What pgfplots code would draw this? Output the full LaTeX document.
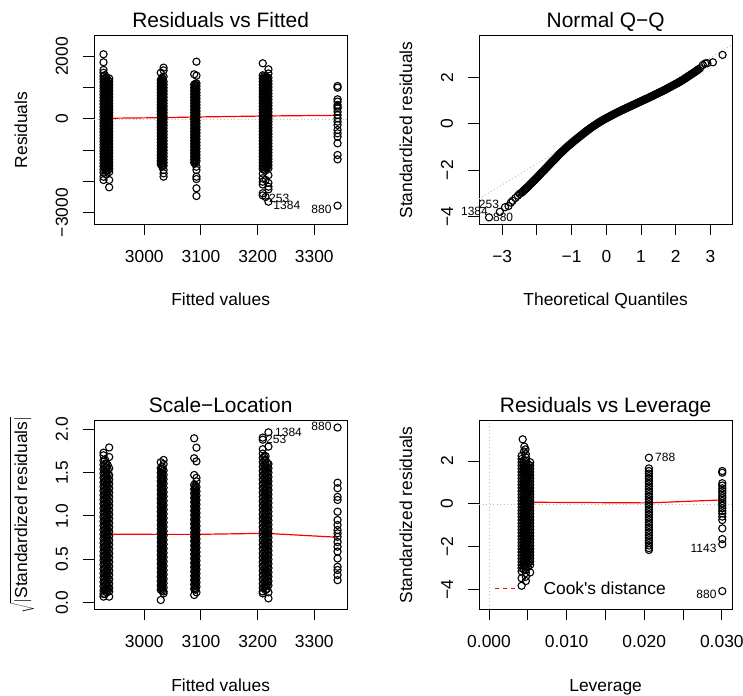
\documentclass[border=0pt]{standalone}
\usepackage{pgfplots}
\pgfplotsset{compat=1.18}
\usepackage{fontspec}
\setmainfont{Liberation Sans}
\newfontfamily\plainsans{Liberation Sans}
\definecolor{rgray}{RGB}{190,190,190}
\pgfplotsset{
  rplot/.style={
    scale only axis, width=253.3pt, height=188.6pt, anchor=south west,
    clip=false, scaled ticks=false,
    axis line style={line width=1pt},
    every tick/.style={black, line width=1pt},
    tick align=outside, major tick length=10.7pt,
    xtick pos=left, ytick pos=left, minor tick num=0,
    title style={at={(0.5,1)}, anchor=base, yshift=2.5pt, inner sep=0pt,
      font=\fontsize{20.9}{24}\selectfont},
    xlabel style={at={(axis description cs:0.5,0)}, anchor=base, yshift=-81.7pt, inner sep=0pt},
    ylabel style={at={(axis description cs:-0.2645,0.5)}, anchor=base, inner sep=0pt},
    xticklabel style={anchor=north, inner sep=0pt},
    yticklabel style={rotate=90, anchor=south, inner sep=0pt},
    xticklabel shift=15.3pt, yticklabel shift=15pt,
  },
  pts/.style={only marks, mark=o, black, mark size=3.6pt, mark options={line width=1.1pt}},
  rdot/.style={rgray, line width=0.9pt, dash pattern=on 1pt off 2.5pt, no marks},
  rsmooth/.style={red, line width=1.2pt, no marks},
}
\tikzset{lab/.style={inner sep=0pt, font=\fontsize{12}{14}\selectfont}}
\begin{document}
\begin{tikzpicture}[font=\fontsize{17.4}{20}\selectfont]
\useasboundingbox (0,0) rectangle (743pt,695pt);

% Residuals vs Fitted
\begin{axis}[rplot, at={(94pt,470.7pt)},
  xmin=2911.2, xmax=3358.2, ymin=-3375, ymax=2670,
  xtick={3000,3100,3200,3300}, xticklabels={3000,3100,3200,3300},
  ytick={-3000,-2000,-1000,0,1000,2000}, yticklabels={−3000,,,0,,2000},
  title={Residuals vs Fitted}, xlabel={Fitted values}, ylabel={Residuals}]
\addplot[pts] coordinates {(2928,2075) (2928,1817) (2928,1571) (2928,1480) (2928,1380) (2928,1280) (2928,1180) (2928,1080) (2928,980) (2928,880) (2928,780) (2928,680) (2928,580) (2928,480) (2928,380) (2928,280) (2928,180) (2928,80) (2928,-20) (2928,-120) (2928,-220) (2928,-320) (2928,-420) (2928,-520) (2928,-620) (2928,-720) (2928,-820) (2928,-920) (2928,-1020) (2928,-1120) (2928,-1220) (2928,-1320) (2928,-1420) (2928,-1520) (2928,-1620) (2928,-1720) (2928,-1850) (2928,-1955)};
\addplot[pts] coordinates {(2933,1330) (2933,1230) (2933,1130) (2933,1030) (2933,930) (2933,830) (2933,730) (2933,630) (2933,530) (2933,430) (2933,330) (2933,230) (2933,130) (2933,30) (2933,-70) (2933,-170) (2933,-270) (2933,-370) (2933,-470) (2933,-570) (2933,-670) (2933,-770) (2933,-870) (2933,-970) (2933,-1070) (2933,-1170) (2933,-1270) (2933,-1370) (2933,-1470) (2933,-1570) (2933,-1670) (2933,-1780)};
\addplot[pts] coordinates {(2938,1300) (2938,1200) (2938,1100) (2938,1000) (2938,900) (2938,800) (2938,700) (2938,600) (2938,500) (2938,400) (2938,300) (2938,200) (2938,100) (2938,0) (2938,-100) (2938,-200) (2938,-300) (2938,-400) (2938,-500) (2938,-600) (2938,-700) (2938,-800) (2938,-900) (2938,-1000) (2938,-1100) (2938,-1200) (2938,-1300) (2938,-1400) (2938,-1500) (2938,-1600) (2938,-1700) (2938,-1955) (2938,-2189)};
\addplot[pts] coordinates {(2935.5,1255) (2935.5,1155) (2935.5,1055) (2935.5,955) (2935.5,855) (2935.5,755) (2935.5,655) (2935.5,555) (2935.5,455) (2935.5,355) (2935.5,255) (2935.5,155) (2935.5,55) (2935.5,-45) (2935.5,-145) (2935.5,-245) (2935.5,-345) (2935.5,-445) (2935.5,-545) (2935.5,-645) (2935.5,-745) (2935.5,-845) (2935.5,-945) (2935.5,-1045) (2935.5,-1145) (2935.5,-1245) (2935.5,-1345) (2935.5,-1445) (2935.5,-1545) (2935.5,-1645)};
\addplot[pts] coordinates {(2930.5,1405) (2930.5,1305) (2930.5,1205) (2930.5,1105) (2930.5,1005) (2930.5,905) (2930.5,805) (2930.5,705) (2930.5,605) (2930.5,505) (2930.5,405) (2930.5,305) (2930.5,205) (2930.5,105) (2930.5,5) (2930.5,-95) (2930.5,-195) (2930.5,-295) (2930.5,-395) (2930.5,-495) (2930.5,-595) (2930.5,-695) (2930.5,-795) (2930.5,-895) (2930.5,-995) (2930.5,-1095) (2930.5,-1195) (2930.5,-1295) (2930.5,-1395) (2930.5,-1495) (2930.5,-1595)};
\addplot[pts] coordinates {(3029,1484) (3029,1250) (3029,1150) (3029,1050) (3029,950) (3029,850) (3029,750) (3029,650) (3029,550) (3029,450) (3029,350) (3029,250) (3029,150) (3029,50) (3029,-50) (3029,-150) (3029,-250) (3029,-350) (3029,-450) (3029,-550) (3029,-650) (3029,-750) (3029,-850) (3029,-950) (3029,-1050) (3029,-1150) (3029,-1250) (3029,-1350) (3029,-1450)};
\addplot[pts] coordinates {(3034,1645) (3034,1560) (3034,1356) (3034,1200) (3034,1100) (3034,1000) (3034,900) (3034,800) (3034,700) (3034,600) (3034,500) (3034,400) (3034,300) (3034,200) (3034,100) (3034,0) (3034,-100) (3034,-200) (3034,-300) (3034,-400) (3034,-500) (3034,-600) (3034,-700) (3034,-800) (3034,-900) (3034,-1000) (3034,-1100) (3034,-1200) (3034,-1300) (3034,-1400) (3034,-1500) (3034,-1635) (3034,-1741) (3034,-1848)};
\addplot[pts] coordinates {(3031.5,1325) (3031.5,1225) (3031.5,1125) (3031.5,1025) (3031.5,925) (3031.5,825) (3031.5,725) (3031.5,625) (3031.5,525) (3031.5,425) (3031.5,325) (3031.5,225) (3031.5,125) (3031.5,25) (3031.5,-75) (3031.5,-175) (3031.5,-275) (3031.5,-375) (3031.5,-475) (3031.5,-575) (3031.5,-675) (3031.5,-775) (3031.5,-875) (3031.5,-975) (3031.5,-1075) (3031.5,-1175) (3031.5,-1275) (3031.5,-1375) (3031.5,-1475)};
\addplot[pts] coordinates {(3031.5,1275) (3031.5,1175) (3031.5,1075) (3031.5,975) (3031.5,875) (3031.5,775) (3031.5,675) (3031.5,575) (3031.5,475) (3031.5,375) (3031.5,275) (3031.5,175) (3031.5,75) (3031.5,-25) (3031.5,-125) (3031.5,-225) (3031.5,-325) (3031.5,-425) (3031.5,-525) (3031.5,-625) (3031.5,-725) (3031.5,-825) (3031.5,-925) (3031.5,-1025) (3031.5,-1125) (3031.5,-1225) (3031.5,-1325) (3031.5,-1425) (3031.5,-1525)};
\addplot[pts] coordinates {(3088,1432) (3088,1100) (3088,1000) (3088,900) (3088,800) (3088,700) (3088,600) (3088,500) (3088,400) (3088,300) (3088,200) (3088,100) (3088,0) (3088,-100) (3088,-200) (3088,-300) (3088,-400) (3088,-500) (3088,-600) (3088,-700) (3088,-800) (3088,-900) (3088,-1000) (3088,-1100) (3088,-1200) (3088,-1300) (3088,-1400)};
\addplot[pts] coordinates {(3092,1837) (3092,1390) (3092,1144) (3092,1050) (3092,950) (3092,850) (3092,750) (3092,650) (3092,550) (3092,450) (3092,350) (3092,250) (3092,150) (3092,50) (3092,-50) (3092,-150) (3092,-250) (3092,-350) (3092,-450) (3092,-550) (3092,-650) (3092,-750) (3092,-850) (3092,-950) (3092,-1050) (3092,-1150) (3092,-1250) (3092,-1350) (3092,-1530) (3092,-1635) (3092,-1849) (3092,-1925) (3092,-2221) (3092,-2468)};
\addplot[pts] coordinates {(3090,1125) (3090,1025) (3090,925) (3090,825) (3090,725) (3090,625) (3090,525) (3090,425) (3090,325) (3090,225) (3090,125) (3090,25) (3090,-75) (3090,-175) (3090,-275) (3090,-375) (3090,-475) (3090,-575) (3090,-675) (3090,-775) (3090,-875) (3090,-975) (3090,-1075) (3090,-1175) (3090,-1275) (3090,-1375)};
\addplot[pts] coordinates {(3090,1075) (3090,975) (3090,875) (3090,775) (3090,675) (3090,575) (3090,475) (3090,375) (3090,275) (3090,175) (3090,75) (3090,-25) (3090,-125) (3090,-225) (3090,-325) (3090,-425) (3090,-525) (3090,-625) (3090,-725) (3090,-825) (3090,-925) (3090,-1025) (3090,-1125) (3090,-1225) (3090,-1325) (3090,-1425)};
\addplot[pts] coordinates {(3209,1785) (3209,1400) (3209,1300) (3209,1200) (3209,1100) (3209,1000) (3209,900) (3209,800) (3209,700) (3209,600) (3209,500) (3209,400) (3209,300) (3209,200) (3209,100) (3209,0) (3209,-100) (3209,-200) (3209,-300) (3209,-400) (3209,-500) (3209,-600) (3209,-700) (3209,-800) (3209,-900) (3209,-1000) (3209,-1100) (3209,-1200) (3209,-1300) (3209,-1400) (3209,-1500) (3209,-1600) (3209,-1750) (3209,-1900) (3209,-2010) (3209,-2100) (3209,-2381) (3209,-2450)};
\addplot[pts] coordinates {(3214,1350) (3214,1250) (3214,1150) (3214,1050) (3214,950) (3214,850) (3214,750) (3214,650) (3214,550) (3214,450) (3214,350) (3214,250) (3214,150) (3214,50) (3214,-50) (3214,-150) (3214,-250) (3214,-350) (3214,-450) (3214,-550) (3214,-650) (3214,-750) (3214,-850) (3214,-950) (3214,-1050) (3214,-1150) (3214,-1250) (3214,-1350) (3214,-1450) (3214,-1550) (3214,-1650) (3214,-1950) (3214,-2500)};
\addplot[pts] coordinates {(3219,1592) (3219,1460) (3219,1320) (3219,1220) (3219,1120) (3219,1020) (3219,920) (3219,820) (3219,720) (3219,620) (3219,520) (3219,420) (3219,320) (3219,220) (3219,120) (3219,20) (3219,-80) (3219,-180) (3219,-280) (3219,-380) (3219,-480) (3219,-580) (3219,-680) (3219,-780) (3219,-880) (3219,-980) (3219,-1080) (3219,-1180) (3219,-1280) (3219,-1380) (3219,-1480) (3219,-1580) (3219,-1800) (3219,-2050) (3219,-2170) (3219,-2254) (3219,-2650)};
\addplot[pts] coordinates {(3211.5,1375) (3211.5,1275) (3211.5,1175) (3211.5,1075) (3211.5,975) (3211.5,875) (3211.5,775) (3211.5,675) (3211.5,575) (3211.5,475) (3211.5,375) (3211.5,275) (3211.5,175) (3211.5,75) (3211.5,-25) (3211.5,-125) (3211.5,-225) (3211.5,-325) (3211.5,-425) (3211.5,-525) (3211.5,-625) (3211.5,-725) (3211.5,-825) (3211.5,-925) (3211.5,-1025) (3211.5,-1125) (3211.5,-1225) (3211.5,-1325) (3211.5,-1425) (3211.5,-1525) (3211.5,-1625)};
\addplot[pts] coordinates {(3216.5,1340) (3216.5,1240) (3216.5,1140) (3216.5,1040) (3216.5,940) (3216.5,840) (3216.5,740) (3216.5,640) (3216.5,540) (3216.5,440) (3216.5,340) (3216.5,240) (3216.5,140) (3216.5,40) (3216.5,-60) (3216.5,-160) (3216.5,-260) (3216.5,-360) (3216.5,-460) (3216.5,-560) (3216.5,-660) (3216.5,-760) (3216.5,-860) (3216.5,-960) (3216.5,-1060) (3216.5,-1160) (3216.5,-1260) (3216.5,-1360) (3216.5,-1460) (3216.5,-1560)};
\addplot[pts] coordinates {(3341,1058) (3341,1004) (3341,631) (3341,556) (3341,449) (3341,395) (3341,342) (3341,235) (3341,128) (3341,21) (3341,-85) (3341,-192) (3341,-353) (3341,-460) (3341,-566) (3341,-780) (3341,-1154) (3341,-1293) (3341,-2778)};
\addplot[rdot] coordinates {(2911.2,0) (3358.2,0)};
\addplot[rsmooth] coordinates {(2928,22) (3031,42) (3090,64) (3214,96) (3341,118)};
\node[lab, anchor=east] at (axis cs:3330.7,-2885) {880};
\node[lab, anchor=west] at (axis cs:3220,-2542) {253};
\node[lab, anchor=west] at (axis cs:3227.6,-2756) {1384};
\end{axis}

% Normal Q-Q
\begin{axis}[rplot, at={(479pt,470.7pt)},
  xmin=-3.67, xmax=3.63, ymin=-4.34, ymax=3.82,
  xtick={-3,-2,-1,0,1,2,3}, xticklabels={−3,,−1,0,1,2,3},
  ytick={-4,-2,0,2}, yticklabels={−4,−2,0,2},
  title={Normal Q−Q}, xlabel={Theoretical Quantiles}, ylabel={Standardized residuals}]
\addplot[pts] coordinates {(-3.38,-4.04) (-3.07,-3.80) (-2.92,-3.60) (-2.82,-3.55) (-2.75,-3.40) (-2.70,-3.32) (-2.62,-3.20) (-2.55,-3.10) (-2.50,-3.02) (-2.45,-2.98) (-2.40,-2.91) (-2.35,-2.84) (-2.30,-2.77) (-2.25,-2.70) (-2.20,-2.62) (-2.15,-2.55) (-2.10,-2.47) (-2.05,-2.40) (-2.00,-2.32) (-1.95,-2.24) (-1.90,-2.16) (-1.85,-2.08) (-1.80,-2.01) (-1.75,-1.93) (-1.70,-1.85) (-1.65,-1.77) (-1.60,-1.69) (-1.55,-1.61) (-1.50,-1.54) (-1.45,-1.46) (-1.40,-1.38) (-1.35,-1.30) (-1.30,-1.23) (-1.25,-1.16) (-1.20,-1.09) (-1.15,-1.02) (-1.10,-0.95) (-1.05,-0.89) (-1.00,-0.83) (-0.95,-0.76) (-0.90,-0.70) (-0.85,-0.64) (-0.80,-0.58) (-0.75,-0.52) (-0.70,-0.46) (-0.65,-0.40) (-0.60,-0.34) (-0.55,-0.28) (-0.50,-0.23) (-0.45,-0.17) (-0.40,-0.12) (-0.35,-0.07) (-0.30,-0.02) (-0.25,0.03) (-0.20,0.08) (-0.15,0.12) (-0.10,0.17) (-0.05,0.21) (0.00,0.25) (0.05,0.29) (0.10,0.33) (0.15,0.37) (0.20,0.41) (0.25,0.45) (0.30,0.49) (0.35,0.52) (0.40,0.56) (0.45,0.60) (0.50,0.63) (0.55,0.67) (0.60,0.70) (0.65,0.74) (0.70,0.77) (0.75,0.81) (0.80,0.84) (0.85,0.88) (0.90,0.91) (0.95,0.95) (1.00,0.98) (1.05,1.02) (1.10,1.05) (1.15,1.09) (1.20,1.12) (1.25,1.16) (1.30,1.19) (1.35,1.23) (1.40,1.27) (1.45,1.30) (1.50,1.34) (1.55,1.38) (1.60,1.41) (1.65,1.45) (1.70,1.49) (1.75,1.53) (1.80,1.57) (1.85,1.61) (1.90,1.65) (1.95,1.69) (2.00,1.73) (2.05,1.77) (2.10,1.81) (2.15,1.86) (2.20,1.90) (2.25,1.95) (2.30,2.00) (2.35,2.05) (2.40,2.10) (2.45,2.15) (2.50,2.20) (2.55,2.25) (2.60,2.30) (2.65,2.36) (2.70,2.41) (2.78,2.55) (2.85,2.62) (2.91,2.63) (3.07,2.67) (3.35,2.99)};
\addplot[pts] coordinates {(-2.425,-2.945) (-2.375,-2.875) (-2.325,-2.805) (-2.275,-2.735) (-2.225,-2.66) (-2.175,-2.585) (-2.125,-2.51) (-2.075,-2.435) (-2.025,-2.36) (-1.975,-2.28) (-1.925,-2.20) (-1.875,-2.12) (-1.825,-2.045) (-1.775,-1.97) (-1.725,-1.89) (-1.675,-1.81) (-1.625,-1.73) (-1.575,-1.65) (-1.525,-1.575) (-1.475,-1.50) (-1.425,-1.42) (-1.375,-1.34) (-1.325,-1.265) (-1.275,-1.195) (-1.225,-1.125) (-1.175,-1.055) (-1.125,-0.985) (-1.075,-0.92) (-1.025,-0.86) (-0.975,-0.795) (-0.925,-0.73) (-0.875,-0.67) (-0.825,-0.61) (-0.775,-0.55) (-0.725,-0.49) (-0.675,-0.43) (-0.625,-0.37) (-0.575,-0.31) (-0.525,-0.255) (-0.475,-0.20) (-0.425,-0.145) (-0.375,-0.095) (-0.325,-0.045) (-0.275,0.005) (-0.225,0.055) (-0.175,0.10) (-0.125,0.145) (-0.075,0.19) (-0.025,0.23) (0.025,0.27) (0.075,0.31) (0.125,0.35) (0.175,0.39) (0.225,0.43) (0.275,0.47) (0.325,0.505) (0.375,0.54) (0.425,0.58) (0.475,0.615) (0.525,0.65) (0.575,0.685) (0.625,0.72) (0.675,0.755) (0.725,0.79) (0.775,0.825) (0.825,0.86) (0.875,0.895) (0.925,0.93) (0.975,0.965) (1.025,1.00) (1.075,1.035) (1.125,1.07) (1.175,1.105) (1.225,1.14) (1.275,1.175) (1.325,1.21) (1.375,1.25) (1.425,1.285) (1.475,1.32) (1.525,1.36) (1.575,1.395) (1.625,1.43) (1.675,1.47) (1.725,1.51) (1.775,1.55) (1.825,1.59) (1.875,1.63) (1.925,1.67) (1.975,1.71) (2.025,1.75) (2.075,1.79) (2.125,1.835) (2.175,1.88) (2.225,1.925) (2.275,1.975) (2.325,2.025) (2.375,2.075) (2.425,2.125) (2.475,2.175) (2.525,2.225) (2.575,2.275) (2.625,2.33)};
\addplot[rdot] coordinates {(-3.67,-3.24) (3.63,3.44)};
\node[lab, anchor=east] at (axis cs:-3.09,-3.47) {253};
\node[lab, anchor=east] at (axis cs:-3.41,-3.77) {1384};
\node[lab, anchor=west] at (axis cs:-3.27,-4.04) {880};
\end{axis}

% Scale-Location
\begin{axis}[rplot, at={(94pt,85.7pt)},
  xmin=2911.2, xmax=3358.2, ymin=-0.076, ymax=2.099,
  xtick={3000,3100,3200,3300}, xticklabels={3000,3100,3200,3300},
  ytick={0,0.5,1,1.5,2}, yticklabels={0.0,0.5,1.0,1.5,2.0},
  title={Scale−Location}, xlabel={Fitted values},
  ylabel={$\sqrt{|\mbox{Standardized residuals}|}$}]
\addplot[pts] coordinates {(2928,1.73) (2928,1.70) (2928,1.64) (2928,1.59) (2928,1.54) (2928,1.49) (2928,1.44) (2928,1.39) (2928,1.34) (2928,1.29) (2928,1.24) (2928,1.19) (2928,1.14) (2928,1.09) (2928,1.04) (2928,0.99) (2928,0.94) (2928,0.89) (2928,0.84) (2928,0.79) (2928,0.74) (2928,0.69) (2928,0.64) (2928,0.59) (2928,0.54) (2928,0.49) (2928,0.44) (2928,0.39) (2928,0.34) (2928,0.29) (2928,0.24) (2928,0.19) (2928,0.14) (2928,0.10) (2928,0.07)};
\addplot[pts] coordinates {(2933,1.61) (2933,1.56) (2933,1.51) (2933,1.46) (2933,1.41) (2933,1.36) (2933,1.31) (2933,1.26) (2933,1.21) (2933,1.16) (2933,1.11) (2933,1.06) (2933,1.01) (2933,0.96) (2933,0.91) (2933,0.86) (2933,0.81) (2933,0.76) (2933,0.71) (2933,0.66) (2933,0.61) (2933,0.56) (2933,0.51) (2933,0.46) (2933,0.41) (2933,0.36) (2933,0.31) (2933,0.26) (2933,0.21) (2933,0.16) (2933,0.12)};
\addplot[pts] coordinates {(2938,1.79) (2938,1.68) (2938,1.55) (2938,1.47) (2938,1.42) (2938,1.37) (2938,1.32) (2938,1.27) (2938,1.22) (2938,1.17) (2938,1.12) (2938,1.07) (2938,1.02) (2938,0.97) (2938,0.92) (2938,0.87) (2938,0.82) (2938,0.77) (2938,0.72) (2938,0.67) (2938,0.62) (2938,0.57) (2938,0.52) (2938,0.47) (2938,0.42) (2938,0.37) (2938,0.32) (2938,0.27) (2938,0.22) (2938,0.17) (2938,0.13) (2938,0.07)};
\addplot[pts] coordinates {(2935.5,1.585) (2935.5,1.535) (2935.5,1.485) (2935.5,1.435) (2935.5,1.385) (2935.5,1.335) (2935.5,1.285) (2935.5,1.235) (2935.5,1.185) (2935.5,1.135) (2935.5,1.085) (2935.5,1.035) (2935.5,0.985) (2935.5,0.935) (2935.5,0.885) (2935.5,0.835) (2935.5,0.785) (2935.5,0.735) (2935.5,0.685) (2935.5,0.635) (2935.5,0.585) (2935.5,0.535) (2935.5,0.485) (2935.5,0.435) (2935.5,0.385) (2935.5,0.335) (2935.5,0.285) (2935.5,0.235) (2935.5,0.185) (2935.5,0.135)};
\addplot[pts] coordinates {(2930.5,1.65) (2930.5,1.60) (2930.5,1.55) (2930.5,1.50) (2930.5,1.45) (2930.5,1.40) (2930.5,1.35) (2930.5,1.30) (2930.5,1.25) (2930.5,1.20) (2930.5,1.15) (2930.5,1.10) (2930.5,1.05) (2930.5,1.00) (2930.5,0.95) (2930.5,0.90) (2930.5,0.85) (2930.5,0.80) (2930.5,0.75) (2930.5,0.70) (2930.5,0.65) (2930.5,0.60) (2930.5,0.55) (2930.5,0.50) (2930.5,0.45) (2930.5,0.40) (2930.5,0.35) (2930.5,0.30) (2930.5,0.25) (2930.5,0.20) (2930.5,0.15) (2930.5,0.10)};
\addplot[pts] coordinates {(3029,1.62) (3029,1.55) (3029,1.50) (3029,1.45) (3029,1.40) (3029,1.35) (3029,1.30) (3029,1.25) (3029,1.20) (3029,1.15) (3029,1.10) (3029,1.05) (3029,1.00) (3029,0.95) (3029,0.90) (3029,0.85) (3029,0.80) (3029,0.75) (3029,0.70) (3029,0.65) (3029,0.60) (3029,0.55) (3029,0.50) (3029,0.45) (3029,0.40) (3029,0.35) (3029,0.30) (3029,0.25) (3029,0.20) (3029,0.15) (3029,0.031)};
\addplot[pts] coordinates {(3034,1.646) (3034,1.60) (3034,1.525) (3034,1.475) (3034,1.425) (3034,1.375) (3034,1.325) (3034,1.275) (3034,1.225) (3034,1.175) (3034,1.125) (3034,1.075) (3034,1.025) (3034,0.975) (3034,0.925) (3034,0.875) (3034,0.825) (3034,0.775) (3034,0.725) (3034,0.675) (3034,0.625) (3034,0.575) (3034,0.525) (3034,0.475) (3034,0.425) (3034,0.375) (3034,0.325) (3034,0.275) (3034,0.225) (3034,0.175) (3034,0.13) (3034,0.108)};
\addplot[pts] coordinates {(3031.5,1.54) (3031.5,1.49) (3031.5,1.44) (3031.5,1.39) (3031.5,1.34) (3031.5,1.29) (3031.5,1.24) (3031.5,1.19) (3031.5,1.14) (3031.5,1.09) (3031.5,1.04) (3031.5,0.99) (3031.5,0.94) (3031.5,0.89) (3031.5,0.84) (3031.5,0.79) (3031.5,0.74) (3031.5,0.69) (3031.5,0.64) (3031.5,0.59) (3031.5,0.54) (3031.5,0.49) (3031.5,0.44) (3031.5,0.39) (3031.5,0.34) (3031.5,0.29) (3031.5,0.24) (3031.5,0.19) (3031.5,0.14)};
\addplot[pts] coordinates {(3031.5,1.565) (3031.5,1.515) (3031.5,1.465) (3031.5,1.415) (3031.5,1.365) (3031.5,1.315) (3031.5,1.265) (3031.5,1.215) (3031.5,1.165) (3031.5,1.115) (3031.5,1.065) (3031.5,1.015) (3031.5,0.965) (3031.5,0.915) (3031.5,0.865) (3031.5,0.815) (3031.5,0.765) (3031.5,0.715) (3031.5,0.665) (3031.5,0.615) (3031.5,0.565) (3031.5,0.515) (3031.5,0.465) (3031.5,0.415) (3031.5,0.365) (3031.5,0.315) (3031.5,0.265) (3031.5,0.215) (3031.5,0.165)};
\addplot[pts] coordinates {(3088,1.896) (3088,1.666) (3088,1.473) (3088,1.36) (3088,1.31) (3088,1.26) (3088,1.21) (3088,1.16) (3088,1.11) (3088,1.06) (3088,1.01) (3088,0.96) (3088,0.91) (3088,0.86) (3088,0.81) (3088,0.76) (3088,0.71) (3088,0.66) (3088,0.61) (3088,0.56) (3088,0.51) (3088,0.46) (3088,0.41) (3088,0.36) (3088,0.31) (3088,0.26) (3088,0.21) (3088,0.16) (3088,0.089)};
\addplot[pts] coordinates {(3092,1.788) (3092,1.63) (3092,1.44) (3092,1.40) (3092,1.335) (3092,1.285) (3092,1.235) (3092,1.185) (3092,1.135) (3092,1.085) (3092,1.035) (3092,0.985) (3092,0.935) (3092,0.885) (3092,0.835) (3092,0.785) (3092,0.735) (3092,0.685) (3092,0.635) (3092,0.585) (3092,0.535) (3092,0.485) (3092,0.435) (3092,0.385) (3092,0.335) (3092,0.285) (3092,0.235) (3092,0.185) (3092,0.12)};
\addplot[pts] coordinates {(3090,1.32) (3090,1.27) (3090,1.22) (3090,1.17) (3090,1.12) (3090,1.07) (3090,1.02) (3090,0.97) (3090,0.92) (3090,0.87) (3090,0.82) (3090,0.77) (3090,0.72) (3090,0.67) (3090,0.62) (3090,0.57) (3090,0.52) (3090,0.47) (3090,0.42) (3090,0.37) (3090,0.32) (3090,0.27) (3090,0.22) (3090,0.17)};
\addplot[pts] coordinates {(3090,1.35) (3090,1.30) (3090,1.25) (3090,1.20) (3090,1.15) (3090,1.10) (3090,1.05) (3090,1.00) (3090,0.95) (3090,0.90) (3090,0.85) (3090,0.80) (3090,0.75) (3090,0.70) (3090,0.65) (3090,0.60) (3090,0.55) (3090,0.50) (3090,0.45) (3090,0.40) (3090,0.35) (3090,0.30) (3090,0.25) (3090,0.20) (3090,0.15)};
\addplot[pts] coordinates {(3209,1.904) (3209,1.88) (3209,1.77) (3209,1.72) (3209,1.67) (3209,1.62) (3209,1.57) (3209,1.52) (3209,1.47) (3209,1.42) (3209,1.37) (3209,1.32) (3209,1.27) (3209,1.22) (3209,1.17) (3209,1.12) (3209,1.07) (3209,1.02) (3209,0.97) (3209,0.92) (3209,0.87) (3209,0.82) (3209,0.77) (3209,0.72) (3209,0.67) (3209,0.62) (3209,0.57) (3209,0.52) (3209,0.47) (3209,0.42) (3209,0.37) (3209,0.32) (3209,0.27) (3209,0.22) (3209,0.17) (3209,0.13) (3209,0.108)};
\addplot[pts] coordinates {(3214,1.69) (3214,1.645) (3214,1.595) (3214,1.545) (3214,1.495) (3214,1.445) (3214,1.395) (3214,1.345) (3214,1.295) (3214,1.245) (3214,1.195) (3214,1.145) (3214,1.095) (3214,1.045) (3214,0.995) (3214,0.945) (3214,0.895) (3214,0.845) (3214,0.795) (3214,0.745) (3214,0.695) (3214,0.645) (3214,0.595) (3214,0.545) (3214,0.495) (3214,0.445) (3214,0.395) (3214,0.345) (3214,0.295) (3214,0.245) (3214,0.195) (3214,0.145)};
\addplot[pts] coordinates {(3219,1.965) (3219,1.80) (3219,1.60) (3219,1.55) (3219,1.50) (3219,1.45) (3219,1.40) (3219,1.35) (3219,1.30) (3219,1.25) (3219,1.20) (3219,1.15) (3219,1.10) (3219,1.05) (3219,1.00) (3219,0.95) (3219,0.90) (3219,0.85) (3219,0.80) (3219,0.75) (3219,0.70) (3219,0.65) (3219,0.60) (3219,0.55) (3219,0.50) (3219,0.45) (3219,0.40) (3219,0.35) (3219,0.30) (3219,0.25) (3219,0.20) (3219,0.12) (3219,0.05)};
\addplot[pts] coordinates {(3211.5,1.685) (3211.5,1.635) (3211.5,1.585) (3211.5,1.535) (3211.5,1.485) (3211.5,1.435) (3211.5,1.385) (3211.5,1.335) (3211.5,1.285) (3211.5,1.235) (3211.5,1.185) (3211.5,1.135) (3211.5,1.085) (3211.5,1.035) (3211.5,0.985) (3211.5,0.935) (3211.5,0.885) (3211.5,0.835) (3211.5,0.785) (3211.5,0.735) (3211.5,0.685) (3211.5,0.635) (3211.5,0.585) (3211.5,0.535) (3211.5,0.485) (3211.5,0.435) (3211.5,0.385) (3211.5,0.335) (3211.5,0.285) (3211.5,0.235) (3211.5,0.185)};
\addplot[pts] coordinates {(3216.5,1.61) (3216.5,1.56) (3216.5,1.51) (3216.5,1.46) (3216.5,1.41) (3216.5,1.36) (3216.5,1.31) (3216.5,1.26) (3216.5,1.21) (3216.5,1.16) (3216.5,1.11) (3216.5,1.06) (3216.5,1.01) (3216.5,0.96) (3216.5,0.91) (3216.5,0.86) (3216.5,0.81) (3216.5,0.76) (3216.5,0.71) (3216.5,0.66) (3216.5,0.61) (3216.5,0.56) (3216.5,0.51) (3216.5,0.46) (3216.5,0.41) (3216.5,0.36) (3216.5,0.31) (3216.5,0.26) (3216.5,0.21) (3216.5,0.16)};
\addplot[pts] coordinates {(3341,2.02) (3341,1.384) (3341,1.32) (3341,1.22) (3341,1.185) (3341,1.05) (3341,0.954) (3341,0.896) (3341,0.838) (3341,0.80) (3341,0.76) (3341,0.70) (3341,0.646) (3341,0.59) (3341,0.51) (3341,0.415) (3341,0.377) (3341,0.32) (3341,0.26)};
\addplot[rsmooth] coordinates {(2928,0.79) (3031,0.788) (3090,0.788) (3214,0.80) (3341,0.755)};
\node[lab, anchor=west] at (axis cs:3230.6,1.965) {1384};
\node[lab, anchor=west] at (axis cs:3214.7,1.888) {253};
\node[lab, anchor=east] at (axis cs:3330.7,2.03) {880};
\end{axis}

% Residuals vs Leverage
\begin{axis}[rplot, at={(479pt,85.7pt)},
  xmin=-0.00129, xmax=0.03135, ymin=-4.92, ymax=3.89,
  xtick={0,0.005,0.01,0.015,0.02,0.025,0.03}, xticklabels={0.000,,0.010,,0.020,,0.030},
  ytick={-4,-2,0,2}, yticklabels={−4,−2,0,2},
  title={Residuals vs Leverage}, xlabel={Leverage}, ylabel={Standardized residuals}]
\addplot[pts] coordinates {(0.0045,2.45) (0.0042,2.25) (0.0042,2.10) (0.0042,1.95) (0.0042,1.80) (0.0042,1.65) (0.0042,1.50) (0.0042,1.35) (0.0042,1.20) (0.0042,1.05) (0.0042,0.90) (0.0042,0.75) (0.0042,0.60) (0.0042,0.45) (0.0042,0.30) (0.0042,0.15) (0.0042,0.00) (0.0042,-0.15) (0.0042,-0.30) (0.0042,-0.45) (0.0042,-0.60) (0.0042,-0.75) (0.0042,-0.90) (0.0042,-1.05) (0.0042,-1.20) (0.0042,-1.35) (0.0042,-1.50) (0.0042,-1.65) (0.0042,-1.80) (0.0042,-1.95) (0.0042,-2.10) (0.0042,-2.25) (0.0042,-2.40) (0.0042,-2.55) (0.0042,-2.70) (0.0042,-2.85) (0.0042,-3.00) (0.0042,-3.15) (0.0042,-3.47) (0.0042,-3.82)};
\addplot[pts] coordinates {(0.00434,3.02) (0.00455,2.68) (0.0047,2.55) (0.00475,2.325) (0.00475,2.175) (0.00475,2.025) (0.00475,1.875) (0.00475,1.725) (0.00475,1.575) (0.00475,1.425) (0.00475,1.275) (0.00475,1.125) (0.00475,0.975) (0.00475,0.825) (0.00475,0.675) (0.00475,0.525) (0.00475,0.375) (0.00475,0.225) (0.00475,0.075) (0.00475,-0.075) (0.00475,-0.225) (0.00475,-0.375) (0.00475,-0.525) (0.00475,-0.675) (0.00475,-0.825) (0.00475,-0.975) (0.00475,-1.125) (0.00475,-1.275) (0.00475,-1.425) (0.00475,-1.575) (0.00475,-1.725) (0.00475,-1.875) (0.00475,-2.025) (0.00475,-2.175) (0.00475,-2.325) (0.00475,-2.475) (0.00475,-2.625) (0.00475,-2.775) (0.00475,-2.925) (0.00475,-3.075) (0.00475,-3.225) (0.00475,-3.40) (0.00475,-3.60)};
\addplot[pts] coordinates {(0.0053,1.95) (0.0053,1.80) (0.0053,1.65) (0.0053,1.50) (0.0053,1.35) (0.0053,1.20) (0.0053,1.05) (0.0053,0.90) (0.0053,0.75) (0.0053,0.60) (0.0053,0.45) (0.0053,0.30) (0.0053,0.15) (0.0053,0.00) (0.0053,-0.15) (0.0053,-0.30) (0.0053,-0.45) (0.0053,-0.60) (0.0053,-0.75) (0.0053,-0.90) (0.0053,-1.05) (0.0053,-1.20) (0.0053,-1.35) (0.0053,-1.50) (0.0053,-1.65) (0.0053,-1.80) (0.0053,-1.95) (0.0053,-2.10) (0.0053,-2.25) (0.0053,-2.40) (0.0053,-2.55) (0.0053,-2.70) (0.0053,-2.85) (0.0053,-3.20)};
\addplot[pts] coordinates {(0.0045,2.04) (0.0045,1.89) (0.0045,1.74) (0.0045,1.59) (0.0045,1.44) (0.0045,1.29) (0.0045,1.14) (0.0045,0.99) (0.0045,0.84) (0.0045,0.69) (0.0045,0.54) (0.0045,0.39) (0.0045,0.24) (0.0045,0.09) (0.0045,-0.06) (0.0045,-0.21) (0.0045,-0.36) (0.0045,-0.51) (0.0045,-0.66) (0.0045,-0.81) (0.0045,-0.96) (0.0045,-1.11) (0.0045,-1.26) (0.0045,-1.41) (0.0045,-1.56) (0.0045,-1.71) (0.0045,-1.86) (0.0045,-2.01) (0.0045,-2.16) (0.0045,-2.31) (0.0045,-2.46) (0.0045,-2.61) (0.0045,-2.76) (0.0045,-2.91) (0.0045,-3.06)};
\addplot[pts] coordinates {(0.0050,1.86) (0.0050,1.71) (0.0050,1.56) (0.0050,1.41) (0.0050,1.26) (0.0050,1.11) (0.0050,0.96) (0.0050,0.81) (0.0050,0.66) (0.0050,0.51) (0.0050,0.36) (0.0050,0.21) (0.0050,0.06) (0.0050,-0.09) (0.0050,-0.24) (0.0050,-0.39) (0.0050,-0.54) (0.0050,-0.69) (0.0050,-0.84) (0.0050,-0.99) (0.0050,-1.14) (0.0050,-1.29) (0.0050,-1.44) (0.0050,-1.59) (0.0050,-1.74) (0.0050,-1.89) (0.0050,-2.04) (0.0050,-2.19) (0.0050,-2.34) (0.0050,-2.49) (0.0050,-2.64) (0.0050,-2.79) (0.0050,-2.94)};
\addplot[pts] coordinates {(0.0206,2.16) (0.0206,1.66) (0.0206,1.54) (0.0206,1.42) (0.0206,1.30) (0.0206,1.18) (0.0206,1.06) (0.0206,0.94) (0.0206,0.82) (0.0206,0.70) (0.0206,0.58) (0.0206,0.46) (0.0206,0.34) (0.0206,0.22) (0.0206,0.10) (0.0206,-0.02) (0.0206,-0.14) (0.0206,-0.26) (0.0206,-0.38) (0.0206,-0.50) (0.0206,-0.62) (0.0206,-0.74) (0.0206,-0.86) (0.0206,-0.98) (0.0206,-1.10) (0.0206,-1.22) (0.0206,-1.34) (0.0206,-1.46) (0.0206,-1.58) (0.0206,-1.70) (0.0206,-1.82) (0.0206,-1.94) (0.0206,-2.06) (0.0206,-2.15)};
\addplot[pts] coordinates {(0.03006,1.54) (0.03006,1.46) (0.03006,0.97) (0.03006,0.86) (0.03006,0.73) (0.03006,0.61) (0.03006,0.50) (0.03006,0.37) (0.03006,0.27) (0.03006,0.14) (0.03006,0.03) (0.03006,-0.08) (0.03006,-0.20) (0.03006,-0.33) (0.03006,-0.44) (0.03006,-0.59) (0.03006,-0.75) (0.03006,-1.14) (0.03006,-1.64) (0.03006,-1.88) (0.03006,-4.07)};
\addplot[rdot] coordinates {(-0.00129,0) (0.03135,0)};
\addplot[rdot] coordinates {(0,-4.92) (0,3.89)};
\addplot[rsmooth] coordinates {(0.0042,0.14) (0.0053,0.08) (0.0206,0.05) (0.0301,0.19)};
\draw[red, line width=1.1pt, dash pattern=on 4pt off 4pt] (axis cs:0.00077,-3.94) -- (axis cs:0.0040,-3.94);
\node[inner sep=0pt, anchor=west, font=\plainsans\fontsize{17.4}{20}\selectfont] at (axis cs:0.0070,-3.93) {Cook's distance};
\node[lab, anchor=west] at (axis cs:0.02139,2.16) {788};
\node[lab, anchor=east] at (axis cs:0.02934,-2.07) {1143};
\node[lab, anchor=east] at (axis cs:0.02934,-4.21) {880};
\end{axis}
\end{tikzpicture}
\end{document}
